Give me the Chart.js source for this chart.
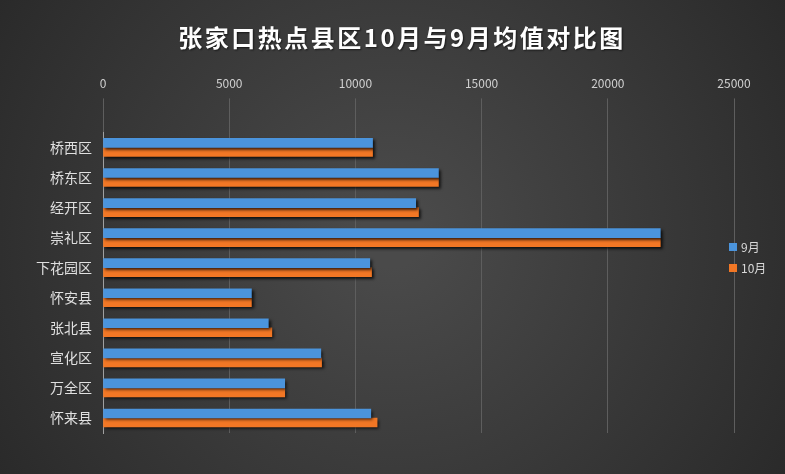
<!DOCTYPE html>
<html>
<head>
    <meta charset="utf-8">
    <title>张家口热点县区10月与9月均值对比图</title>
    <script src="https://cdn.jsdelivr.net/npm/chart.js@4.4.0/dist/chart.umd.min.js"></script>
    <style>
        html, body { margin: 0; padding: 0; background: #333; }
        #wrap { width: 785px; height: 474px; }
    </style>
</head>
<body>
    <div id="wrap"><canvas id="myChart" width="785" height="474"></canvas></div>

    <script>
        // data
        var districts = ['桥西区', '桥东区', '经开区', '崇礼区', '下花园区', '怀安县', '张北县', '宣化区', '万全区', '怀来县'];
        var sep = [10680, 13290, 12390, 22080, 10570, 5880, 6550, 8630, 7200, 10610];
        var oct = [10680, 13290, 12500, 22080, 10640, 5880, 6690, 8660, 7200, 10860];
        var xTicks = [0, 5000, 10000, 15000, 20000, 25000];
        var chartTitle = '张家口热点县区10月与9月均值对比图';

        var FONT = '"Noto Sans CJK SC", "Microsoft YaHei", sans-serif';

        // dark radial background + title
        const bgPlugin = {
            id: 'bg',
            beforeDraw(chart) {
                const c = chart.ctx, w = chart.width, h = chart.height;
                const g = c.createRadialGradient(w / 2, h / 2, 30, w / 2, h / 2, w * 0.62);
                g.addColorStop(0, '#4a4a4a');
                g.addColorStop(1, '#282828');
                c.save();
                c.fillStyle = g;
                c.fillRect(0, 0, w, h);
                c.font = 'bold 24px ' + FONT;
                c.letterSpacing = '2.5px';
                c.fillStyle = '#ffffff';
                c.textAlign = 'center';
                c.textBaseline = 'middle';
                c.shadowColor = 'rgba(0,0,0,0.6)';
                c.shadowBlur = 2;
                c.shadowOffsetX = 1;
                c.shadowOffsetY = 1;
                c.fillText(chartTitle, 402, 38);
                c.restore();
            }
        };

        // soft shadow under the bars
        const shadowPlugin = {
            id: 'barShadow',
            beforeDatasetsDraw(chart) {
                const c = chart.ctx;
                c.save();
                c.shadowColor = 'rgba(0,0,0,0.75)';
                c.shadowBlur = 3;
                c.shadowOffsetX = 2;
                c.shadowOffsetY = 2;
            },
            afterDatasetsDraw(chart) {
                chart.ctx.restore();
            }
        };

        // legend on the right, drawn by hand
        const legendPlugin = {
            id: 'sideLegend',
            afterDraw(chart) {
                const c = chart.ctx;
                c.save();
                c.font = '12px ' + FONT;
                c.textBaseline = 'middle';
                chart.data.datasets.forEach(function (ds, i) {
                    var y = 247 + i * 21;
                    c.fillStyle = ds.backgroundColor;
                    c.fillRect(729, y - 4, 8, 8);
                    c.fillStyle = '#d9d9d9';
                    c.fillText(ds.label, 741, y);
                });
                c.restore();
            }
        };

        const ctx = document.getElementById('myChart').getContext('2d');
        const myChart = new Chart(ctx, {
            type: 'bar',
            data: {
                labels: districts,
                datasets: [
                    { label: '9月', data: sep, backgroundColor: '#4b94dc', barThickness: 9 },
                    { label: '10月', data: oct, backgroundColor: '#f27725', barThickness: 9 }
                ]
            },
            options: {
                indexAxis: 'y',
                responsive: false,
                animation: false,
                categoryPercentage: 0.8,
                layout: { padding: { left: 0, right: 51, top: 68, bottom: 41 } },
                scales: {
                    x: {
                        position: 'top',
                        min: 0,
                        max: 25000,
                        afterBuildTicks(scale) {
                            scale.ticks = xTicks.map(function (v) { return { value: v }; });
                        },
                        grid: { color: '#5e5e5e', lineWidth: 1, tickLength: 34, drawTicks: true },
                        border: { display: false },
                        ticks: {
                            color: '#d0d0d0',
                            font: { size: 12, family: FONT },
                            padding: 8,
                            callback: function (v) { return String(v); }
                        }
                    },
                    y: {
                        afterFit(scale) { scale.width = 103; },
                        grid: { display: false },
                        border: { display: true, color: '#a0a0a0', width: 1 },
                        ticks: { color: '#e0e0e0', font: { size: 14, family: FONT }, padding: 3 }
                    }
                },
                plugins: {
                    legend: { display: false },
                    tooltip: { enabled: false },
                    title: { display: false }
                }
            },
            plugins: [bgPlugin, shadowPlugin, legendPlugin]
        });
    </script>
</body>
</html>
